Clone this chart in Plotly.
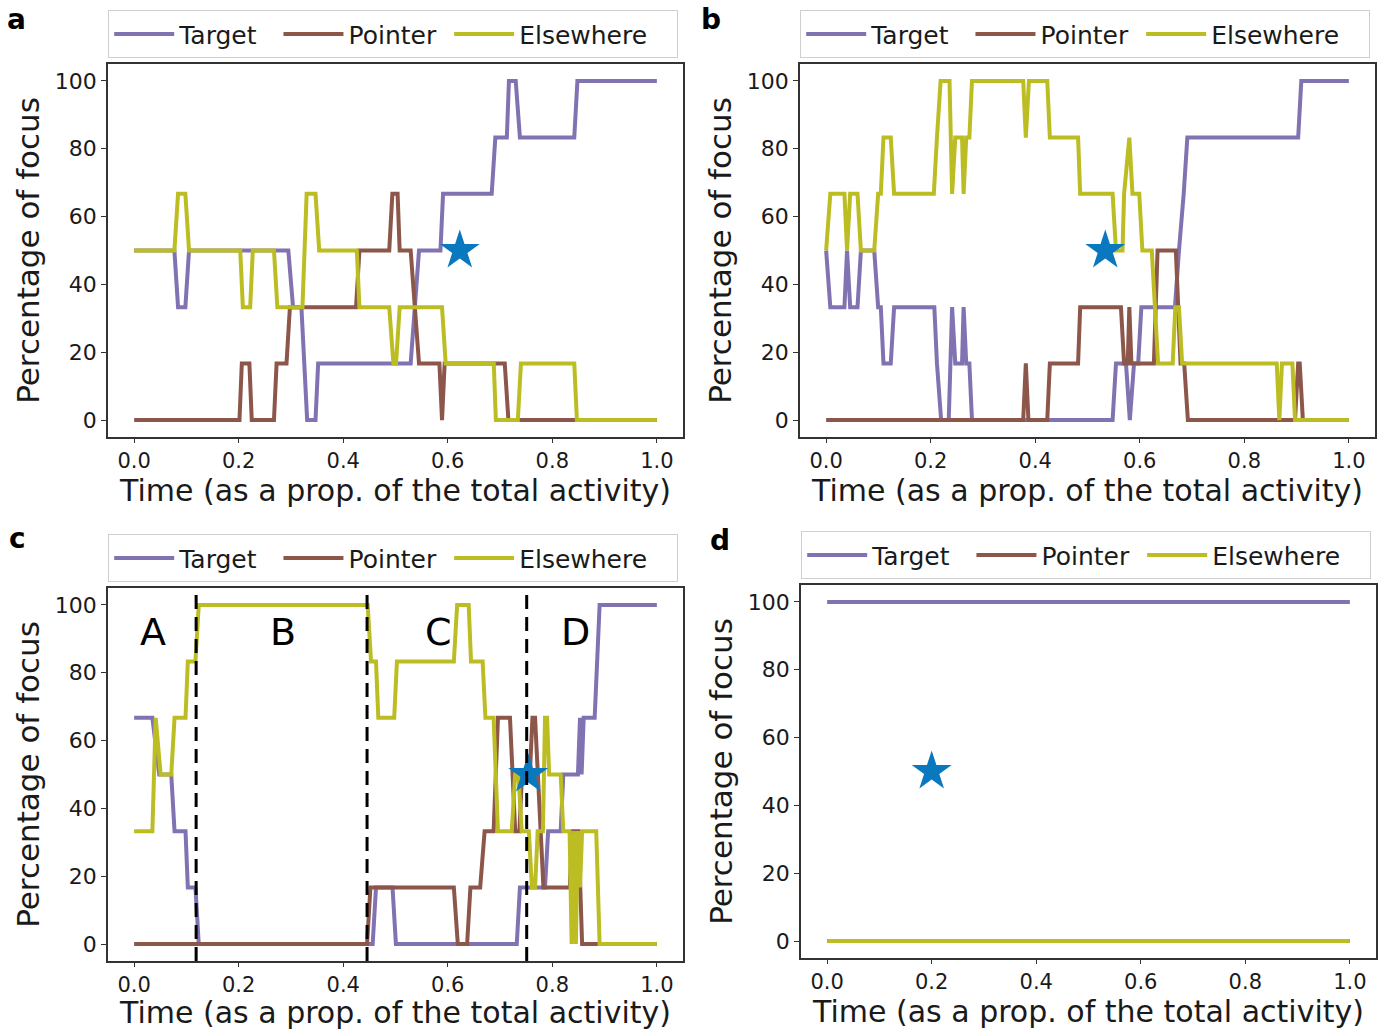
import plotly.graph_objects as go

W, H = 1386, 1030
FONT = "DejaVu Sans"
PURPLE = "#8172B2"
BROWN = "#8C564B"
OLIVE = "#BCBD22"
STAR = "#0A78BE"

SERIES_NAMES = ["Target", "Pointer", "Elsewhere"]
# small non-breaking padding after each legend name to reproduce the reference's legend spacing
LEGEND_PAD = ["\u00a0\u00a0", "\u00a0", "\u00a0\u00a0\u00a0"]
X_TICKS = [0.0, 0.2, 0.4, 0.6, 0.8, 1.0]
X_TICK_LABELS = ["0.0", "0.2", "0.4", "0.6", "0.8", "1.0"]
Y_TICKS = [0, 20, 40, 60, 80, 100]
Y_TICK_LABELS = ["0", "20", "40", "60", "80", "100"]

# ---------------- panel a ----------------
a_t_target = [0, 0.077, 0.084, 0.098, 0.105, 0.295, 0.304, 0.320, 0.331, 0.347, 0.352, 0.529, 0.537, 0.545,
              0.586, 0.591, 0.684, 0.691, 0.713, 0.717, 0.730, 0.738, 0.842, 0.848, 1.0]
a_v_target = [50, 50, 33.3, 33.3, 50, 50, 33.3, 33.3, 0, 0, 16.7, 16.7, 33.3, 50,
              50, 66.7, 66.7, 83.3, 83.3, 100, 100, 83.3, 83.3, 100, 100]
a_t_pointer = [0, 0.2015, 0.206, 0.2205, 0.225, 0.2675, 0.2725, 0.2915, 0.298, 0.4245, 0.431, 0.488, 0.494,
               0.504, 0.508, 0.529, 0.545, 0.584, 0.589, 0.594, 0.709, 0.716, 1.0]
a_v_pointer = [0, 0, 16.7, 16.7, 0, 0, 16.7, 16.7, 33.3, 33.3, 50, 50, 66.7,
               66.7, 50, 50, 16.7, 16.7, 0, 16.7, 16.7, 0, 0]
a_t_else = [0, 0.077, 0.084, 0.098, 0.105, 0.203, 0.208, 0.222, 0.227, 0.2675, 0.274, 0.322, 0.330, 0.347,
            0.354, 0.426, 0.431, 0.488, 0.496, 0.501, 0.508, 0.589, 0.596, 0.688, 0.692, 0.734, 0.740, 0.842,
            0.847, 1.0]
a_v_else = [50, 50, 66.7, 66.7, 50, 50, 33.3, 33.3, 50, 50, 33.3, 33.3, 66.7, 66.7,
            50, 50, 33.3, 33.3, 16.7, 16.7, 33.3, 33.3, 16.7, 16.7, 0, 0, 16.7, 16.7,
            0, 0]
a_star = (0.623, 50)

# ---------------- panel b ----------------
b_t_target = [0, 0.008, 0.035, 0.040, 0.046, 0.060, 0.0665, 0.092, 0.0995, 0.1046, 0.1097, 0.1236, 0.130,
              0.207, 0.212, 0.220, 0.2345, 0.241, 0.247, 0.260, 0.263, 0.268, 0.274, 0.279, 0.548, 0.5545,
              0.5736, 0.581, 0.589, 0.597, 0.603, 0.6673, 0.675, 0.684, 0.691, 0.903, 0.909, 1.0]
b_v_target = [50, 33.3, 33.3, 50, 33.3, 33.3, 50, 50, 33.3, 33.3, 16.7, 16.7, 33.3,
              33.3, 16.7, 0, 0, 33.3, 16.7, 16.7, 33.3, 16.7, 16.7, 0, 0, 16.7,
              16.7, 0, 16.7, 16.7, 33.3, 33.3, 50, 66.7, 83.3, 83.3, 100, 100]
b_t_pointer = [0, 0.377, 0.382, 0.387, 0.423, 0.428, 0.482, 0.486, 0.564, 0.570, 0.577, 0.580, 0.584, 0.627,
               0.634, 0.669, 0.678, 0.685, 0.692, 0.897, 0.903, 0.906, 0.912, 1.0]
b_v_pointer = [0, 0, 16.7, 0, 0, 16.7, 16.7, 33.3, 33.3, 16.7, 16.7, 33.3, 16.7, 16.7,
               50, 50, 16.7, 16.7, 0, 0, 16.7, 16.7, 0, 0]
b_t_else = [0, 0.008, 0.035, 0.040, 0.046, 0.060, 0.0665, 0.092, 0.0995, 0.1046, 0.1097, 0.1236, 0.130,
            0.206, 0.212, 0.219, 0.236, 0.241, 0.247, 0.260, 0.263, 0.268, 0.274, 0.279, 0.377, 0.382,
            0.388, 0.423, 0.428, 0.482, 0.486, 0.548, 0.5545, 0.567, 0.570, 0.580, 0.586, 0.599, 0.605,
            0.623, 0.635, 0.663, 0.668, 0.675, 0.681, 0.862, 0.867, 0.872, 0.892, 0.897, 1.0]
b_v_else = [50, 66.7, 66.7, 50, 66.7, 66.7, 50, 50, 66.7, 66.7, 83.3, 83.3, 66.7,
            66.7, 83.3, 100, 100, 66.7, 83.3, 83.3, 66.7, 83.3, 83.3, 100, 100, 83.3,
            100, 100, 83.3, 83.3, 66.7, 66.7, 50, 50, 66.7, 83.3, 66.7, 66.7, 50,
            50, 16.7, 16.7, 33.3, 33.3, 16.7, 16.7, 0, 16.7, 16.7, 0, 0]
b_star = (0.534, 50)

# ---------------- panel c ----------------
c_t_target = [0, 0.0349, 0.048, 0.071, 0.0773, 0.0983, 0.1027, 0.1173, 0.1236, 0.4563, 0.4627, 0.4943,
              0.5008, 0.732, 0.738, 0.786, 0.792, 0.816, 0.821, 0.849, 0.853, 0.856, 0.860, 0.881, 0.8905, 1.0]
c_v_target = [66.7, 66.7, 50, 50, 33.3, 33.3, 16.7, 16.7, 0, 0, 16.7, 16.7,
              0, 0, 16.7, 16.7, 33.3, 33.3, 50, 50, 66.7, 50, 66.7, 66.7, 100, 100]
c_t_pointer = [0, 0.4456, 0.452, 0.6116, 0.6192, 0.637, 0.6433, 0.662, 0.6705, 0.6877, 0.696, 0.719, 0.729,
               0.737, 0.742, 0.757, 0.762, 0.767, 0.783, 0.8335, 0.838, 0.850, 0.857, 1.0]
c_v_pointer = [0, 0, 16.7, 16.7, 0, 0, 16.7, 16.7, 33.3, 33.3, 66.7, 66.7, 33.3,
               33.3, 50, 50, 66.7, 66.7, 16.7, 16.7, 33.3, 33.3, 0, 0]
c_t_else = [0, 0.0349, 0.0412, 0.0507, 0.071, 0.0773, 0.0983, 0.1027, 0.1173, 0.1236, 0.4468, 0.4532,
            0.4627, 0.4671, 0.4975, 0.5027, 0.6116, 0.6179, 0.640, 0.6445, 0.6667, 0.672, 0.6877, 0.696,
            0.7224, 0.7289, 0.7352, 0.7414, 0.755, 0.761, 0.767, 0.772, 0.782, 0.786, 0.790, 0.794, 0.816,
            0.821, 0.833, 0.837, 0.841, 0.845, 0.849, 0.853, 0.857, 0.884, 0.8905, 1.0]
c_v_else = [33.3, 33.3, 66.7, 50, 50, 66.7, 66.7, 83.3, 83.3, 100, 100, 83.3,
            83.3, 66.7, 66.7, 83.3, 83.3, 100, 100, 83.3, 83.3, 66.7, 66.7, 33.3,
            33.3, 50, 50, 33.3, 33.3, 16.7, 16.7, 33.3, 33.3, 66.7, 66.7, 50, 50,
            33.3, 33.3, 0, 33.3, 0, 33.3, 16.7, 33.3, 33.3, 0, 0]
c_star = (0.754, 50)
c_phase_bounds = [0.1186, 0.4456, 0.751]
c_phase_labels = ["A", "B", "C", "D"]
c_phase_label_x = [0.036, 0.285, 0.583, 0.845]
c_phase_label_y = [92, 92, 92, 92]

# ---------------- panel d ----------------
d_t_target = [0, 1.0]
d_v_target = [100, 100]
d_t_pointer = [0, 1.0]
d_v_pointer = [0, 0]
d_t_else = [0, 1.0]
d_v_else = [0, 0]
d_star = (0.2, 50)

panels = [
    dict(letter="a", sfx="", leg="legend",
         data=[(a_t_target, a_v_target), (a_t_pointer, a_v_pointer), (a_t_else, a_v_else)], star=a_star,
         xdom=[108 / W, 683 / W], ydom=[1 - 437 / H, 1 - 64 / H], legbox=(108, 10), lab=(16, 20)),
    dict(letter="b", sfx="2", leg="legend2",
         data=[(b_t_target, b_v_target), (b_t_pointer, b_v_pointer), (b_t_else, b_v_else)], star=b_star,
         xdom=[800 / W, 1375 / W], ydom=[1 - 437 / H, 1 - 64 / H], legbox=(800, 10), lab=(711, 20)),
    dict(letter="c", sfx="3", leg="legend3",
         data=[(c_t_target, c_v_target), (c_t_pointer, c_v_pointer), (c_t_else, c_v_else)], star=c_star,
         xdom=[108 / W, 683 / W], ydom=[1 - 961 / H, 1 - 588 / H], legbox=(108, 534), lab=(17, 538)),
    dict(letter="d", sfx="4", leg="legend4",
         data=[(d_t_target, d_v_target), (d_t_pointer, d_v_pointer), (d_t_else, d_v_else)], star=d_star,
         xdom=[801 / W, 1376 / W], ydom=[1 - 958 / H, 1 - 585 / H], legbox=(801, 531), lab=(720, 540)),
]
COLORS = [PURPLE, BROWN, OLIVE]

fig = go.Figure()
layout = dict(
    width=W, height=H, margin=dict(l=0, r=0, t=0, b=0, autoexpand=False),
    paper_bgcolor="white", plot_bgcolor="white",
    font=dict(family=FONT, color="#1a1a1a"),
    showlegend=True,
)
annotations = []
shapes = []

for p in panels:
    sfx = p["sfx"]
    xref = "x" + sfx
    yref = "y" + sfx
    for name, pad, col, (tt, vv) in zip(SERIES_NAMES, LEGEND_PAD, COLORS, p["data"]):
        fig.add_trace(go.Scatter(
            x=tt, y=vv, mode="lines", name=name + pad,
            line=dict(color=col, width=4), xaxis=xref, yaxis=yref,
            legend=p["leg"], showlegend=True, hoverinfo="skip"))

    layout["xaxis" + sfx] = dict(
        domain=p["xdom"], anchor=yref, range=[-0.05, 1.05], automargin=False,
        tickvals=X_TICKS, ticktext=X_TICK_LABELS,
        showgrid=False, zeroline=False, showline=True, mirror=True,
        linecolor="#333333", linewidth=1.5, ticks="outside", ticklen=4, tickwidth=1.3,
        tickcolor="#333333", tickfont=dict(size=21, family=FONT, color="#1a1a1a"),
        title=dict(text="Time (as a prop. of the total activity)", font=dict(size=30, family=FONT, color="#1a1a1a"),
                   standoff=6),
    )
    layout["yaxis" + sfx] = dict(
        domain=p["ydom"], anchor=xref, range=[-5, 105], automargin=False,
        tickvals=Y_TICKS, ticktext=Y_TICK_LABELS,
        showgrid=False, zeroline=False, showline=True, mirror=True,
        linecolor="#333333", linewidth=1.5, ticks="outside", ticklen=5, tickwidth=1.3,
        tickcolor="#333333", tickfont=dict(size=22, family=FONT, color="#1a1a1a"),
        title=dict(text="Percentage of focus", font=dict(size=31, family=FONT, color="#1a1a1a"), standoff=6),
    )
    lx, ly = p["legbox"]
    layout[p["leg"]] = dict(
        x=lx / W, y=1 - ly / H, xanchor="left", yanchor="top", orientation="h",
        bgcolor="white", bordercolor="#cfcfcf", borderwidth=1.2,
        font=dict(size=25, family=FONT, color="#1a1a1a"),
        itemwidth=60,
    )
    ax, ay = p["lab"]
    annotations.append(dict(
        x=ax / W, y=1 - ay / H, xref="paper", yref="paper", text="<b>%s</b>" % p["letter"],
        showarrow=False, font=dict(size=28, family=FONT, color="black"), xanchor="center", yanchor="middle"))

# stars drawn after all lines so they sit on top
for p in panels:
    sfx = p["sfx"]
    sx, sy = p["star"]
    fig.add_trace(go.Scatter(
        x=[sx], y=[sy], mode="markers", xaxis="x" + sfx, yaxis="y" + sfx, showlegend=False,
        marker=dict(symbol="star", size=30, color=STAR, line=dict(width=0)), hoverinfo="skip"))

for xb in c_phase_bounds:
    shapes.append(dict(type="line", xref="x3", yref="y3 domain", x0=xb, x1=xb, y0=0, y1=1,
                       line=dict(color="black", width=3, dash="14px,8px")))
for lab, lxv, lyv in zip(c_phase_labels, c_phase_label_x, c_phase_label_y):
    annotations.append(dict(x=lxv, y=lyv, xref="x3", yref="y3", text=lab, showarrow=False,
                            font=dict(size=38, family=FONT, color="black"), xanchor="center", yanchor="middle"))

layout["annotations"] = annotations
layout["shapes"] = shapes
fig.update_layout(**layout)

fig.write_html("out.html")
